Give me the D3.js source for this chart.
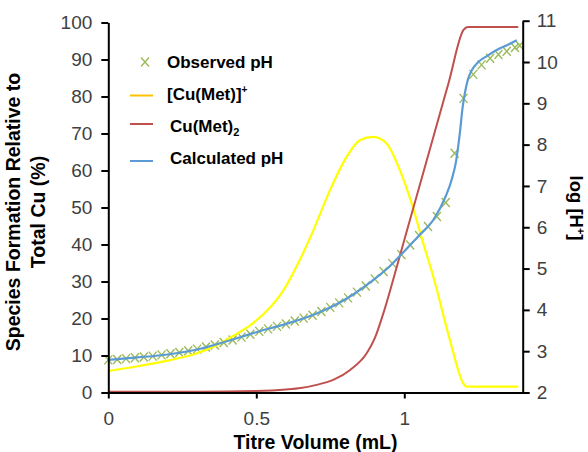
<!DOCTYPE html>
<html>
<head>
<meta charset="utf-8">
<script src="https://cdn.jsdelivr.net/npm/d3@7"></script>
<style>
  body { margin: 0; background: #fff; }
  svg { display: block; }
  text { font-family: "Liberation Sans", Arial, sans-serif; }
</style>
</head>
<body>
<svg id="chart" width="588" height="452"></svg>
<script>
// Titration of Cu with methionine: species distribution (left axis) and pH (right axis)

// [Cu(Met)]+ formation, % of total Cu
const cuMetVol = [0, 0.1, 0.2, 0.3, 0.366, 0.42, 0.48, 0.535, 0.59, 0.648, 0.693, 0.749, 0.805, 0.85, 0.895, 0.94, 0.985, 1.03, 1.064, 1.098, 1.154, 1.199, 1.21, 1.385];
const cuMetPct = [5.8, 7.1, 8.6, 10.6, 12.8, 15.2, 18.2, 22.0, 27.4, 36.0, 43.9, 54.7, 63.7, 68.2, 69.1, 67.3, 60.1, 49.8, 40.3, 31.3, 14.2, 2.5, 1.6, 1.6];

// Cu(Met)2 formation, % of total Cu
const cuMet2Vol = [0, 0.3, 0.5, 0.6, 0.65, 0.7, 0.76, 0.817, 0.873, 0.9, 0.93, 0.96, 1.0, 1.05, 1.1, 1.15, 1.2, 1.215, 1.385];
const cuMet2Pct = [0.2, 0.2, 0.4, 0.8, 1.2, 2.0, 3.4, 6.1, 10.6, 14.6, 21.6, 29.8, 41.2, 55.4, 69.6, 83.8, 98.0, 98.8, 98.8];

// Calculated pH
const calcVol = [0, 0.1, 0.2, 0.3, 0.4, 0.5, 0.6, 0.7, 0.8, 0.9, 0.95, 1.0, 1.05, 1.1, 1.14, 1.16, 1.175, 1.188, 1.197, 1.206, 1.215, 1.228, 1.25, 1.28, 1.32, 1.35, 1.38];
const calcPH  = [2.79, 2.85, 2.92, 3.04, 3.24, 3.46, 3.66, 3.90, 4.25, 4.75, 5.05, 5.42, 5.80, 6.20, 6.75, 7.15, 7.60, 8.30, 8.90, 9.30, 9.58, 9.80, 10.0, 10.15, 10.32, 10.42, 10.53];

// Observed pH
const obsVol = [0, 0.03, 0.06, 0.09, 0.12, 0.15, 0.18, 0.21, 0.24, 0.27, 0.30, 0.33, 0.36, 0.39, 0.42, 0.45, 0.48, 0.51, 0.54, 0.57, 0.60, 0.63, 0.66, 0.69, 0.72, 0.75, 0.78, 0.81, 0.84, 0.87, 0.90, 0.93, 0.96, 0.99, 1.02, 1.05, 1.08, 1.11, 1.14, 1.17, 1.20, 1.233, 1.261, 1.29, 1.318, 1.346, 1.374, 1.39];
const obsPH  = [2.79, 2.80, 2.82, 2.84, 2.86, 2.88, 2.91, 2.94, 2.97, 3.01, 3.05, 3.10, 3.15, 3.21, 3.27, 3.34, 3.41, 3.48, 3.54, 3.60, 3.66, 3.73, 3.80, 3.87, 3.96, 4.06, 4.17, 4.29, 4.43, 4.58, 4.75, 4.93, 5.12, 5.34, 5.57, 5.80, 6.02, 6.26, 6.60, 7.79, 9.12, 9.70, 9.93, 10.09, 10.18, 10.26, 10.35, 10.40];

// Axis ticks
const xTicks = [0, 0.5, 1];
const leftTicks = [0, 10, 20, 30, 40, 50, 60, 70, 80, 90, 100];
const rightTicks = [2, 3, 4, 5, 6, 7, 8, 9, 10, 11];

const svg = d3.select("#chart");

const x  = d3.scaleLinear().domain([0, 1.4]).range([108.3, 522.7]);
const yL = d3.scaleLinear().domain([0, 100]).range([392.5, 22.5]);
const yR = d3.scaleLinear().domain([2, 11]).range([392.5, 20.7]);

const colYellow = "#FFFF00", colRed = "#C0504D", colBlue = "#5B9BD5", colGreen = "#9BBB59";

// Observed markers
const xMark = "M-4,-4.5L4,4.5M-4,4.5L4,-4.5";
svg.append("g").selectAll("path")
  .data(obsVol.map((v, i) => [v, obsPH[i]]))
  .join("path")
  .attr("transform", d => `translate(${x(d[0])},${yR(d[1])})`)
  .attr("d", xMark)
  .attr("fill", "none")
  .attr("stroke", colGreen)
  .attr("stroke-width", 1.4);

const lineL = d3.line().x(d => x(d[0])).y(d => yL(d[1])).curve(d3.curveMonotoneX);
const lineR = d3.line().x(d => x(d[0])).y(d => yR(d[1])).curve(d3.curveMonotoneX);

svg.append("path")
  .attr("d", lineL(cuMetVol.map((v, i) => [v, cuMetPct[i]])))
  .attr("fill", "none").attr("stroke", colYellow).attr("stroke-width", 2.2);

svg.append("path")
  .attr("d", lineL(cuMet2Vol.map((v, i) => [v, cuMet2Pct[i]])))
  .attr("fill", "none").attr("stroke", colRed).attr("stroke-width", 2);

svg.append("path")
  .attr("d", lineR(calcVol.map((v, i) => [v, calcPH[i]])))
  .attr("fill", "none").attr("stroke", colBlue).attr("stroke-width", 2.2);

// Axes
function styleAxis(g) {
  g.select(".domain").attr("stroke", "#000").attr("stroke-width", 2);
  g.selectAll(".tick line").attr("stroke", "#000").attr("stroke-width", 2);
  g.selectAll(".tick text").attr("fill", "#404040").attr("font-size", 19)
    .attr("font-family", '"Liberation Sans", Arial, sans-serif');
}

svg.append("g")
  .attr("transform", "translate(108.3,0)")
  .call(d3.axisLeft(yL).tickValues(leftTicks).tickSize(7).tickSizeOuter(0).tickPadding(9))
  .call(styleAxis);

svg.append("g")
  .attr("transform", "translate(522.7,0)")
  .call(d3.axisRight(yR).tickValues(rightTicks).tickSize(7).tickSizeOuter(0).tickPadding(7))
  .call(styleAxis);

svg.append("g")
  .attr("transform", "translate(0,392.5)")
  .call(d3.axisBottom(x).tickValues(xTicks).tickFormat(d3.format("")).tickSize(6).tickSizeOuter(0).tickPadding(13))
  .call(styleAxis);

// Axis titles
svg.append("text")
  .attr("x", 315.5).attr("y", 449)
  .attr("text-anchor", "middle").attr("font-size", 19.5).attr("font-weight", "bold")
  .text("Titre Volume (mL)");

const yTitle = svg.append("g").attr("font-size", 19.5).attr("font-weight", "bold").attr("text-anchor", "middle");
yTitle.append("text").attr("transform", "translate(20,212) rotate(-90)").text("Species  Formation Relative to");
yTitle.append("text").attr("transform", "translate(45,212) rotate(-90)").text("Total Cu (%)");

const rTitle = svg.append("text")
  .attr("transform", "translate(570,208) rotate(90)")
  .attr("text-anchor", "middle").attr("font-size", 18.5).attr("font-weight", "bold");
rTitle.append("tspan").text("log [H");
rTitle.append("tspan").attr("font-size", 11).attr("dy", -7).text("+");
rTitle.append("tspan").attr("dy", 7).text("]");

// Legend
const leg = svg.append("g").attr("font-size", 17).attr("font-weight", "bold").attr("fill", "#000");
leg.append("path").attr("transform", "translate(145,62)").attr("d", xMark)
  .attr("fill", "none").attr("stroke", colGreen).attr("stroke-width", 1.4);
leg.append("text").attr("x", 167).attr("y", 68).text("Observed pH");

leg.append("line").attr("x1", 130).attr("x2", 153).attr("y1", 95.5).attr("y2", 95.5)
  .attr("stroke", "#FFC000").attr("stroke-width", 2);
const t2 = leg.append("text").attr("x", 167).attr("y", 100);
t2.append("tspan").text("[Cu(Met)]");
t2.append("tspan").attr("font-size", 10).attr("dy", -7).text("+");

leg.append("line").attr("x1", 130).attr("x2", 153).attr("y1", 124).attr("y2", 124)
  .attr("stroke", colRed).attr("stroke-width", 2);
const t3 = leg.append("text").attr("x", 170).attr("y", 132);
t3.append("tspan").text("Cu(Met)");
t3.append("tspan").attr("font-size", 11).attr("dy", 4).text("2");

leg.append("line").attr("x1", 130).attr("x2", 153).attr("y1", 161).attr("y2", 161)
  .attr("stroke", colBlue).attr("stroke-width", 2);
leg.append("text").attr("x", 170).attr("y", 164).text("Calculated pH");
</script>
</body>
</html>
